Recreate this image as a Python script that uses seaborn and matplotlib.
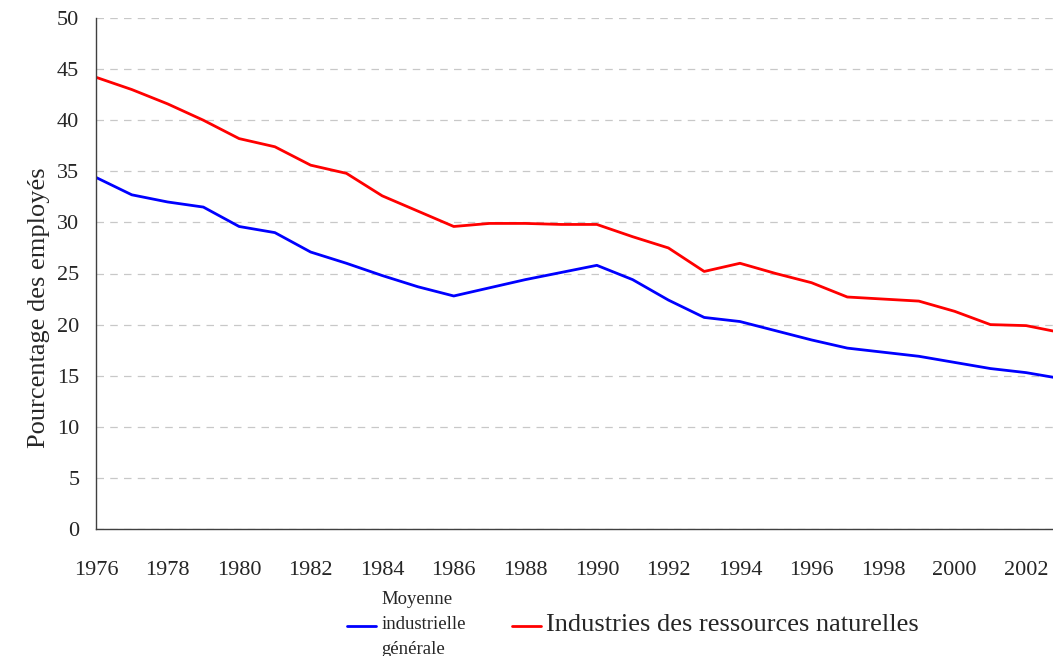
import matplotlib
matplotlib.use("Agg")
import matplotlib.pyplot as plt
import seaborn as sns
import pandas as pd

years = list(range(1976, 2004))
moyenne = [34.4, 32.7, 32.0, 31.5, 29.6, 29.0, 27.1, 26.0, 24.8, 23.7,
           22.8, 23.6, 24.4, 25.1, 25.8, 24.4, 22.4, 20.7, 20.3, 19.4,
           18.5, 17.7, 17.3, 16.9, 16.3, 15.7, 15.3, 14.7]
ressources = [44.2, 43.0, 41.6, 40.0, 38.2, 37.4, 35.6, 34.8, 32.6, 31.1,
              29.6, 29.9, 29.9, 29.8, 29.8, 28.6, 27.5, 25.2, 26.0, 25.0,
              24.1, 22.7, 22.5, 22.3, 21.3, 20.0, 19.9, 19.2]

series_names = ["Moyenne\nindustrielle\ngénérale", "Industries des ressources naturelles"]
colors = ["#0000ff", "#ff0000"]

df = pd.DataFrame({
    "annee": years * 2,
    "valeur": moyenne + ressources,
    "serie": [series_names[0]] * len(years) + [series_names[1]] * len(years),
})

sns.set_style("white")
plt.rcParams["font.family"] = ["Liberation Serif", "DejaVu Serif"]

fig = plt.figure(figsize=(10.53, 6.56), dpi=100)
ax = fig.add_axes([96 / 1053, 127 / 656, 1 - 96 / 1053, (529 - 18) / 656])

sns.lineplot(data=df, x="annee", y="valeur", hue="serie", palette=colors,
             linewidth=2.0, ax=ax, legend=False)

ax.set_xlim(1976, 2002.75)
ax.set_ylim(0, 50)
ax.set_yticks(range(0, 51, 5))
ax.set_xticks(range(1976, 2003))
ax.set_xticklabels([str(y) if y % 2 == 0 else "" for y in range(1976, 2003)])
ax.yaxis.grid(True, color="#c8c8c8", linestyle=(0, (6, 5)), linewidth=0.9)
ax.xaxis.grid(False)

for side in ["top", "right"]:
    ax.spines[side].set_visible(False)
for side in ["left", "bottom"]:
    ax.spines[side].set_color("#404040")
    ax.spines[side].set_linewidth(1.0)

ax.tick_params(axis="x", direction="out", length=6, width=0.8, color="#404040",
               pad=17, labelsize=16)
ax.tick_params(axis="y", direction="out", length=5, width=0.8, color="#404040",
               pad=7, labelsize=16)
ax.set_xlabel("")
ax.set_ylabel("Pourcentage des employés", fontsize=19)
ax.yaxis.set_label_coords(-0.048, 0.434)

handles = [plt.Line2D([], [], color=c, linewidth=2.0) for c in colors]
leg = fig.legend(handles, series_names, loc="upper center", ncol=2,
                 bbox_to_anchor=(0.601, 0.118), frameon=False,
                 handlelength=2.1, handletextpad=0.35, columnspacing=3.3)
leg.get_texts()[0].set_fontsize(13.5)
leg.get_texts()[0].set_linespacing(1.6)
leg.get_texts()[1].set_fontsize(19)

fig.savefig("out.png", dpi=100)
